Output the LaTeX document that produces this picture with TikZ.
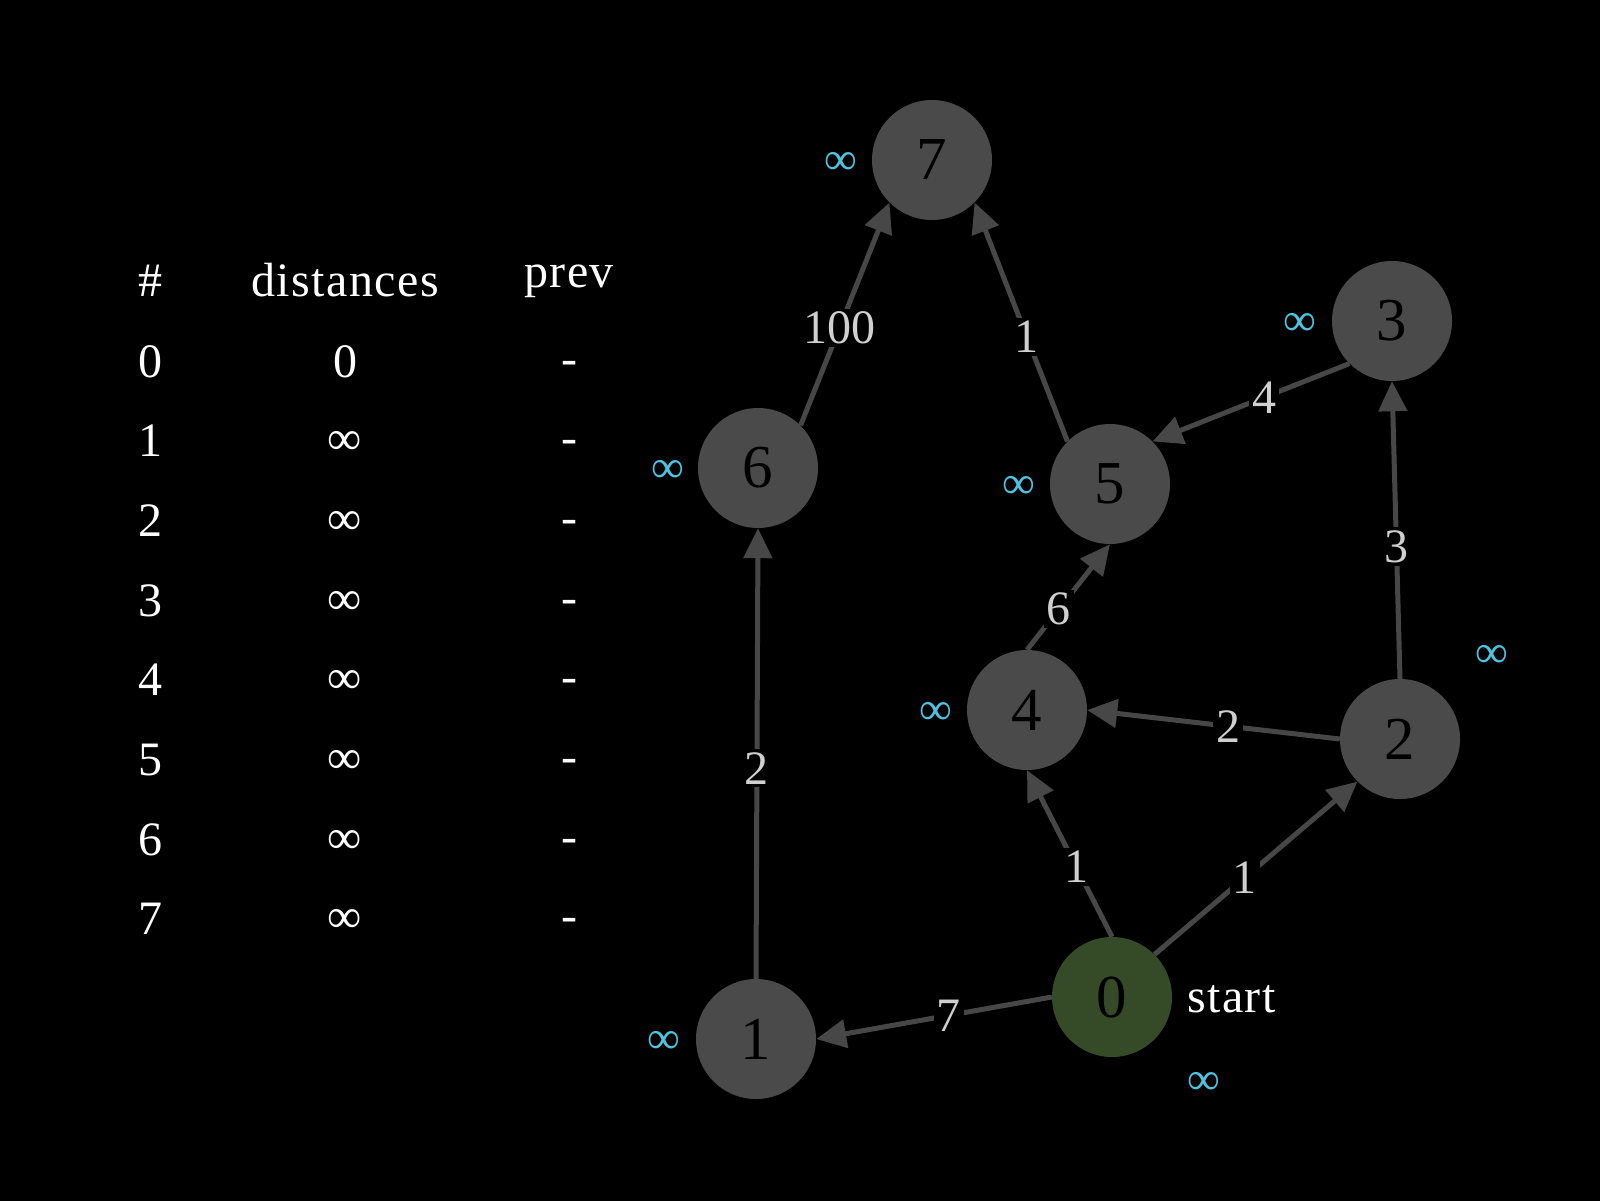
\documentclass[tikz,border=0pt]{standalone}
\usepackage{fontspec}
\setmainfont{Liberation Serif}
\usetikzlibrary{arrows.meta}
\definecolor{nodegray}{HTML}{4A4A4A}
\definecolor{startgreen}{HTML}{354B28}
\definecolor{edgegray}{HTML}{474747}
\definecolor{infcyan}{HTML}{4CC3E0}
\definecolor{lblgray}{HTML}{D0D0D0}
\newfontfamily\spacedserif[LetterSpace=3]{Liberation Serif}
\begin{document}
\begin{tikzpicture}[x=1pt,y=-1pt,
  vert/.style={circle, fill=nodegray, minimum size=120pt, inner sep=0pt,
    font=\fontsize{61}{61}\selectfont, text=black},
  edge/.style={draw=edgegray, line width=5pt, -{Triangle[length=30pt,width=28pt]}},
  lbl/.style={fill=black, text=lblgray, font=\fontsize{48}{48}\selectfont, inner sep=3pt},
  inf/.style={text=infcyan, font=\fontsize{46}{46}\selectfont, inner sep=0pt},
  tbl/.style={text=white, font=\spacedserif\fontsize{48}{48}\selectfont, inner sep=0pt, anchor=base},
  tinf/.style={text=white, font=\fontsize{48}{48}\selectfont, inner sep=0pt, anchor=base}]
\useasboundingbox (0,0) rectangle (1600,1200);
\fill[black] (-10,-10) rectangle (1610,1210);

% table
\node[tbl] (h0) at (150,296) {\#};
\node[tbl] (h1) at (345,296) {distances};
\node[tbl] (h2) at (569,287) {prev};
\foreach \i in {0,...,7} {
  \pgfmathsetmacro{\yy}{377+79.7*\i}
  \pgfmathsetmacro{\yd}{\yy-3}
  \node[tbl] (r\i c0) at (150,\yy) {\i};
  \node[tbl] (r\i c2) at (569,\yd) {-};
}
\node[tbl] (r0c1) at (345,377) {0};
\foreach \i in {1,...,7} {
  \pgfmathsetmacro{\yy}{375+79.7*\i}
  \node[tinf] (r\i c1) at (345,\yy) {∞};
}

% graph nodes
\node[vert] (n7) at (932,160) {7};
\node[vert] (n3) at (1392,321) {3};
\node[vert] (n6) at (758,468) {6};
\node[vert] (n5) at (1110,484) {5};
\node[vert] (n4) at (1027,710) {4};
\node[vert] (n2) at (1400,739) {2};
\node[vert, fill=startgreen] (n0) at (1112,997) {0};
\node[vert] (n1) at (756,1039) {1};

% distance labels
\node[inf] (d7) at (841,163) {∞};
\node[inf] (d3) at (1300,324) {∞};
\node[inf] (d6) at (668,471) {∞};
\node[inf] (d5) at (1019,487) {∞};
\node[inf] (d4) at (936,713) {∞};
\node[inf] (d2) at (1492,656) {∞};
\node[inf] (d0) at (1204,1083) {∞};
\node[inf] (d1) at (664,1042) {∞};
\node[text=white, font=\spacedserif\fontsize{48}{48}\selectfont, inner sep=0pt, anchor=base west] (st) at (1187,1012) {start};

% edges
\draw[edge] (n0.180) -- node[lbl, pos=0.437] {7} (n1.0);
\draw[edge] (n0.90) -- node[lbl, pos=0.42] {1} (n4.270);
\draw[edge] (n0.45) -- node[lbl, pos=0.444] {1} (n2.225);
\draw[edge] (n1.90) -- node[lbl, pos=0.467] {2} (n6.270);
\draw[edge] (n2.180) -- node[lbl, pos=0.441] {2} (n4.0);
\draw[edge] (n2.90) -- node[lbl, pos=0.445] {3} (n3.270);
\draw[edge] (n4.90) -- node[lbl, pos=0.385] {6} (n5.270);
\draw[edge] (n3.225) -- node[lbl, pos=0.432] {4} (n5.45);
\draw[edge] (n6.45) -- node[lbl, pos=0.436] {100} (n7.225);
\draw[edge] (n5.135) -- node[lbl, pos=0.438] {1} (n7.-45);
\end{tikzpicture}
\end{document}
